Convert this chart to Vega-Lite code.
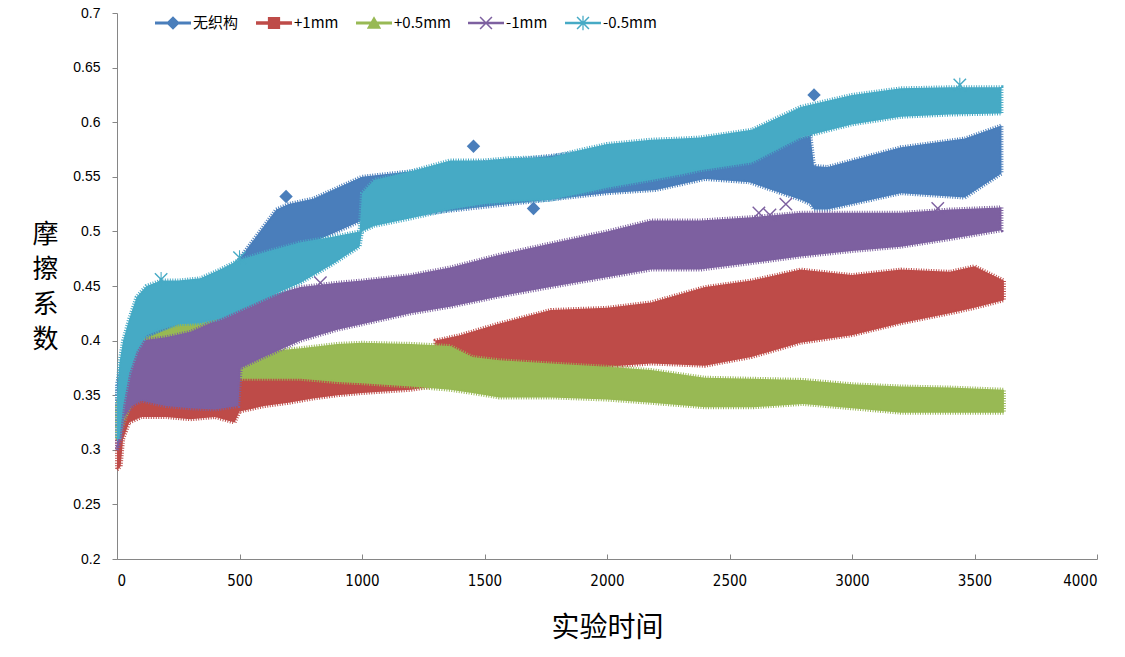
{
  "$schema": "https://vega.github.io/schema/vega-lite/v6.json",
  "autosize": "none",
  "width": 980,
  "height": 546,
  "padding": {"left": 117, "top": 13, "right": 28, "bottom": 98},
  "background": "white",
  "datasets": {
    "bands": [
      {"series": "无织构", "t": 0, "lo": 0.32, "hi": 0.36},
      {"series": "无织构", "t": 30, "lo": 0.34, "hi": 0.39},
      {"series": "无织构", "t": 100, "lo": 0.37, "hi": 0.41},
      {"series": "无织构", "t": 200, "lo": 0.38, "hi": 0.42},
      {"series": "无织构", "t": 300, "lo": 0.39, "hi": 0.43},
      {"series": "无织构", "t": 400, "lo": 0.4, "hi": 0.44},
      {"series": "无织构", "t": 500, "lo": 0.43, "hi": 0.475},
      {"series": "无织构", "t": 550, "lo": 0.44, "hi": 0.49},
      {"series": "无织构", "t": 650, "lo": 0.47, "hi": 0.52},
      {"series": "无织构", "t": 700, "lo": 0.48, "hi": 0.525},
      {"series": "无织构", "t": 800, "lo": 0.49, "hi": 0.53},
      {"series": "无织构", "t": 900, "lo": 0.5, "hi": 0.54},
      {"series": "无织构", "t": 1000, "lo": 0.51, "hi": 0.55},
      {"series": "无织构", "t": 1200, "lo": 0.515, "hi": 0.555},
      {"series": "无织构", "t": 1400, "lo": 0.52, "hi": 0.562},
      {"series": "无织构", "t": 1600, "lo": 0.525, "hi": 0.565},
      {"series": "无织构", "t": 1800, "lo": 0.53, "hi": 0.57},
      {"series": "无织构", "t": 2000, "lo": 0.535, "hi": 0.575},
      {"series": "无织构", "t": 2200, "lo": 0.538, "hi": 0.578},
      {"series": "无织构", "t": 2400, "lo": 0.548, "hi": 0.58},
      {"series": "无织构", "t": 2580, "lo": 0.545, "hi": 0.58},
      {"series": "无织构", "t": 2790, "lo": 0.529, "hi": 0.586},
      {"series": "无织构", "t": 2830, "lo": 0.525, "hi": 0.588},
      {"series": "无织构", "t": 2845, "lo": 0.52, "hi": 0.56},
      {"series": "无织构", "t": 2900, "lo": 0.52, "hi": 0.559},
      {"series": "无织构", "t": 3200, "lo": 0.535, "hi": 0.577},
      {"series": "无织构", "t": 3460, "lo": 0.531, "hi": 0.585},
      {"series": "无织构", "t": 3610, "lo": 0.553, "hi": 0.597},
      {"series": "+1mm", "t": 0, "lo": 0.282, "hi": 0.308},
      {"series": "+1mm", "t": 15, "lo": 0.285, "hi": 0.31},
      {"series": "+1mm", "t": 25, "lo": 0.31, "hi": 0.345},
      {"series": "+1mm", "t": 50, "lo": 0.325, "hi": 0.355},
      {"series": "+1mm", "t": 100, "lo": 0.33, "hi": 0.36},
      {"series": "+1mm", "t": 200, "lo": 0.33, "hi": 0.365},
      {"series": "+1mm", "t": 300, "lo": 0.328, "hi": 0.365},
      {"series": "+1mm", "t": 400, "lo": 0.33, "hi": 0.37},
      {"series": "+1mm", "t": 480, "lo": 0.325, "hi": 0.37},
      {"series": "+1mm", "t": 500, "lo": 0.335, "hi": 0.373},
      {"series": "+1mm", "t": 600, "lo": 0.34, "hi": 0.372},
      {"series": "+1mm", "t": 700, "lo": 0.343, "hi": 0.37},
      {"series": "+1mm", "t": 800, "lo": 0.347, "hi": 0.368},
      {"series": "+1mm", "t": 900, "lo": 0.35, "hi": 0.365},
      {"series": "+1mm", "t": 1000, "lo": 0.352, "hi": 0.363},
      {"series": "+1mm", "t": 1200, "lo": 0.355, "hi": 0.365},
      {"series": "+1mm", "t": 1290, "lo": 0.358, "hi": 0.368},
      {"series": "+1mm", "t": 1300, "lo": 0.365, "hi": 0.4},
      {"series": "+1mm", "t": 1400, "lo": 0.37, "hi": 0.405},
      {"series": "+1mm", "t": 1550, "lo": 0.372, "hi": 0.415},
      {"series": "+1mm", "t": 1770, "lo": 0.373, "hi": 0.428},
      {"series": "+1mm", "t": 2000, "lo": 0.376, "hi": 0.43},
      {"series": "+1mm", "t": 2180, "lo": 0.379, "hi": 0.435},
      {"series": "+1mm", "t": 2400, "lo": 0.377, "hi": 0.449},
      {"series": "+1mm", "t": 2590, "lo": 0.385, "hi": 0.455},
      {"series": "+1mm", "t": 2790, "lo": 0.398, "hi": 0.465},
      {"series": "+1mm", "t": 3000, "lo": 0.405, "hi": 0.46},
      {"series": "+1mm", "t": 3200, "lo": 0.416, "hi": 0.465},
      {"series": "+1mm", "t": 3400, "lo": 0.425, "hi": 0.463},
      {"series": "+1mm", "t": 3500, "lo": 0.43, "hi": 0.468},
      {"series": "+1mm", "t": 3620, "lo": 0.437, "hi": 0.455},
      {"series": "+0.5mm", "t": 0, "lo": 0.31, "hi": 0.34},
      {"series": "+0.5mm", "t": 20, "lo": 0.32, "hi": 0.36},
      {"series": "+0.5mm", "t": 50, "lo": 0.34, "hi": 0.38},
      {"series": "+0.5mm", "t": 100, "lo": 0.36, "hi": 0.4},
      {"series": "+0.5mm", "t": 200, "lo": 0.37, "hi": 0.41},
      {"series": "+0.5mm", "t": 300, "lo": 0.375, "hi": 0.42},
      {"series": "+0.5mm", "t": 450, "lo": 0.375, "hi": 0.42},
      {"series": "+0.5mm", "t": 500, "lo": 0.365, "hi": 0.385},
      {"series": "+0.5mm", "t": 600, "lo": 0.365, "hi": 0.39},
      {"series": "+0.5mm", "t": 750, "lo": 0.365, "hi": 0.393},
      {"series": "+0.5mm", "t": 900, "lo": 0.362, "hi": 0.397},
      {"series": "+0.5mm", "t": 1000, "lo": 0.361, "hi": 0.398},
      {"series": "+0.5mm", "t": 1200, "lo": 0.358, "hi": 0.397},
      {"series": "+0.5mm", "t": 1360, "lo": 0.355, "hi": 0.395},
      {"series": "+0.5mm", "t": 1450, "lo": 0.352, "hi": 0.385},
      {"series": "+0.5mm", "t": 1560, "lo": 0.348, "hi": 0.382},
      {"series": "+0.5mm", "t": 1770, "lo": 0.348, "hi": 0.379},
      {"series": "+0.5mm", "t": 2000, "lo": 0.346, "hi": 0.376},
      {"series": "+0.5mm", "t": 2180, "lo": 0.343, "hi": 0.373},
      {"series": "+0.5mm", "t": 2400, "lo": 0.339, "hi": 0.366},
      {"series": "+0.5mm", "t": 2600, "lo": 0.339, "hi": 0.365},
      {"series": "+0.5mm", "t": 2800, "lo": 0.342, "hi": 0.364},
      {"series": "+0.5mm", "t": 3000, "lo": 0.338, "hi": 0.36},
      {"series": "+0.5mm", "t": 3200, "lo": 0.334, "hi": 0.358},
      {"series": "+0.5mm", "t": 3400, "lo": 0.334, "hi": 0.357},
      {"series": "+0.5mm", "t": 3620, "lo": 0.334, "hi": 0.355},
      {"series": "-1mm", "t": 0, "lo": 0.3, "hi": 0.35},
      {"series": "-1mm", "t": 15, "lo": 0.31, "hi": 0.37},
      {"series": "-1mm", "t": 30, "lo": 0.33, "hi": 0.385},
      {"series": "-1mm", "t": 60, "lo": 0.34, "hi": 0.395},
      {"series": "-1mm", "t": 100, "lo": 0.345, "hi": 0.4},
      {"series": "-1mm", "t": 200, "lo": 0.34, "hi": 0.403},
      {"series": "-1mm", "t": 300, "lo": 0.338, "hi": 0.408},
      {"series": "-1mm", "t": 400, "lo": 0.337, "hi": 0.418},
      {"series": "-1mm", "t": 495, "lo": 0.34, "hi": 0.43},
      {"series": "-1mm", "t": 505, "lo": 0.375, "hi": 0.434},
      {"series": "-1mm", "t": 600, "lo": 0.385, "hi": 0.44},
      {"series": "-1mm", "t": 750, "lo": 0.4, "hi": 0.449},
      {"series": "-1mm", "t": 900, "lo": 0.41, "hi": 0.453},
      {"series": "-1mm", "t": 1000, "lo": 0.415, "hi": 0.455},
      {"series": "-1mm", "t": 1200, "lo": 0.425, "hi": 0.46},
      {"series": "-1mm", "t": 1360, "lo": 0.431, "hi": 0.467},
      {"series": "-1mm", "t": 1550, "lo": 0.44, "hi": 0.478},
      {"series": "-1mm", "t": 1770, "lo": 0.449, "hi": 0.489},
      {"series": "-1mm", "t": 2000, "lo": 0.458, "hi": 0.5},
      {"series": "-1mm", "t": 2180, "lo": 0.465, "hi": 0.51},
      {"series": "-1mm", "t": 2380, "lo": 0.465, "hi": 0.51},
      {"series": "-1mm", "t": 2590, "lo": 0.471, "hi": 0.513},
      {"series": "-1mm", "t": 2790, "lo": 0.477, "hi": 0.517},
      {"series": "-1mm", "t": 3000, "lo": 0.482, "hi": 0.517},
      {"series": "-1mm", "t": 3200, "lo": 0.486, "hi": 0.517},
      {"series": "-1mm", "t": 3400, "lo": 0.493, "hi": 0.52},
      {"series": "-1mm", "t": 3610, "lo": 0.501, "hi": 0.522},
      {"series": "-0.5mm", "t": 0, "lo": 0.31, "hi": 0.35},
      {"series": "-0.5mm", "t": 10, "lo": 0.31, "hi": 0.38},
      {"series": "-0.5mm", "t": 25, "lo": 0.34, "hi": 0.4},
      {"series": "-0.5mm", "t": 50, "lo": 0.37, "hi": 0.42},
      {"series": "-0.5mm", "t": 80, "lo": 0.39, "hi": 0.44},
      {"series": "-0.5mm", "t": 120, "lo": 0.405, "hi": 0.45},
      {"series": "-0.5mm", "t": 180, "lo": 0.41, "hi": 0.455},
      {"series": "-0.5mm", "t": 250, "lo": 0.415, "hi": 0.455},
      {"series": "-0.5mm", "t": 340, "lo": 0.416, "hi": 0.457},
      {"series": "-0.5mm", "t": 420, "lo": 0.42, "hi": 0.465},
      {"series": "-0.5mm", "t": 500, "lo": 0.428, "hi": 0.474},
      {"series": "-0.5mm", "t": 620, "lo": 0.44, "hi": 0.482},
      {"series": "-0.5mm", "t": 750, "lo": 0.453, "hi": 0.49},
      {"series": "-0.5mm", "t": 880, "lo": 0.47, "hi": 0.495},
      {"series": "-0.5mm", "t": 990, "lo": 0.486, "hi": 0.5},
      {"series": "-0.5mm", "t": 1000, "lo": 0.5, "hi": 0.535},
      {"series": "-0.5mm", "t": 1050, "lo": 0.505, "hi": 0.547},
      {"series": "-0.5mm", "t": 1200, "lo": 0.512, "hi": 0.555},
      {"series": "-0.5mm", "t": 1360, "lo": 0.52, "hi": 0.565},
      {"series": "-0.5mm", "t": 1500, "lo": 0.525, "hi": 0.565},
      {"series": "-0.5mm", "t": 1600, "lo": 0.527, "hi": 0.567},
      {"series": "-0.5mm", "t": 1770, "lo": 0.529, "hi": 0.568},
      {"series": "-0.5mm", "t": 1900, "lo": 0.535, "hi": 0.575},
      {"series": "-0.5mm", "t": 2000, "lo": 0.54, "hi": 0.58},
      {"series": "-0.5mm", "t": 2180, "lo": 0.547, "hi": 0.584},
      {"series": "-0.5mm", "t": 2300, "lo": 0.552, "hi": 0.585},
      {"series": "-0.5mm", "t": 2380, "lo": 0.556, "hi": 0.586},
      {"series": "-0.5mm", "t": 2590, "lo": 0.563, "hi": 0.593},
      {"series": "-0.5mm", "t": 2790, "lo": 0.586, "hi": 0.614},
      {"series": "-0.5mm", "t": 3000, "lo": 0.598, "hi": 0.625},
      {"series": "-0.5mm", "t": 3200, "lo": 0.605, "hi": 0.631},
      {"series": "-0.5mm", "t": 3400, "lo": 0.607, "hi": 0.632},
      {"series": "-0.5mm", "t": 3610, "lo": 0.608, "hi": 0.632}
    ],
    "outliers": [
      {"series": "无织构", "t": 690, "v": 0.532},
      {"series": "无织构", "t": 1455, "v": 0.578},
      {"series": "无织构", "t": 1700, "v": 0.521},
      {"series": "无织构", "t": 2845, "v": 0.625},
      {"series": "-1mm", "t": 830, "v": 0.453},
      {"series": "-1mm", "t": 2620, "v": 0.517},
      {"series": "-1mm", "t": 2665, "v": 0.515},
      {"series": "-1mm", "t": 2730, "v": 0.525},
      {"series": "-1mm", "t": 3350, "v": 0.521},
      {"series": "-0.5mm", "t": 180, "v": 0.456},
      {"series": "-0.5mm", "t": 500, "v": 0.476},
      {"series": "-0.5mm", "t": 3440, "v": 0.634}
    ]
  },
  "encoding": {
    "x": {
      "field": "t",
      "type": "quantitative",
      "scale": {"domain": [0, 4000], "nice": false},
      "axis": {
        "values": [0, 500, 1000, 1500, 2000, 2500, 3000, 3500, 4000],
        "format": "d",
        "title": "实验时间",
        "tickSize": -5,
        "labelPadding": 19,
        "labelFont": "Liberation Sans Narrow, DejaVu Sans Condensed, Liberation Sans",
        "labelFontSize": 15,
        "titleFontSize": 28,
        "titleBaseline": "middle",
        "titleY": 69
      }
    },
    "color": {
      "field": "series",
      "type": "nominal",
      "sort": ["无织构", "+1mm", "+0.5mm", "-1mm", "-0.5mm"],
      "scale": {
        "domain": ["无织构", "+1mm", "+0.5mm", "-1mm", "-0.5mm"],
        "range": ["#4A7EBB", "#BE4B48", "#98B954", "#7D60A0", "#46AAC5"]
      },
      "legend": {
        "orient": "none",
        "legendX": 38,
        "legendY": -8,
        "direction": "horizontal",
        "title": null,
        "symbolSize": 1296,
        "symbolOpacity": 1,
        "symbolStrokeWidth": 0,
        "labelFontSize": 15,
        "labelOffset": 2,
        "columnPadding": 17,
        "encode": {
          "symbols": {
            "update": {
              "shape": {
                "signal": "datum.value === '无织构' ? 'M-1,-0.09H1V0.09H-1Z M0,-0.38L0.38,0L0,0.38L-0.38,0Z' : datum.value === '+1mm' ? 'M-1,-0.1H1V0.1H-1Z M-0.34,-0.34H0.34V0.34H-0.34Z' : datum.value === '+0.5mm' ? 'M-1,-0.09H1V0.09H-1Z M0,-0.38L0.4,0.32H-0.4Z' : datum.value === '-1mm' ? 'M-1,-0.07H1V0.07H-1Z M-0.36,-0.3L-0.3,-0.36L0.36,0.3L0.3,0.36Z M0.3,-0.36L0.36,-0.3L-0.3,0.36L-0.36,0.3Z' : 'M-1,-0.07H1V0.07H-1Z M-0.36,-0.3L-0.3,-0.36L0.36,0.3L0.3,0.36Z M0.3,-0.36L0.36,-0.3L-0.3,0.36L-0.36,0.3Z M-0.035,-0.4H0.035V0.4H-0.035Z'"
              }
            }
          }
        }
      }
    }
  },
  "layer": [
    {
      "data": {"name": "bands"},
      "mark": {"type": "area", "opacity": 1, "interpolate": "linear", "strokeWidth": 4, "strokeDash": [1, 1.5]},
      "encoding": {
        "y": {
          "field": "lo",
          "type": "quantitative",
          "scale": {"domain": [0.2, 0.7], "nice": false, "zero": false},
          "axis": {
            "values": [0.2, 0.25, 0.3, 0.35, 0.4, 0.45, 0.5, 0.55, 0.6, 0.65, 0.7],
            "format": ".2~f",
            "title": ["摩", "擦", "系", "数"],
            "tickSize": 5,
            "labelPadding": 12,
            "labelFontSize": 14,
            "titleAngle": 0,
            "titleAlign": "center",
            "titleBaseline": "top",
            "titleX": -72,
            "titleY": 208,
            "titleFontSize": 26,
            "titleLineHeight": 35
          }
        },
        "y2": {"field": "hi"},
        "stroke": {
          "field": "series",
          "type": "nominal",
          "scale": {
            "domain": ["无织构", "+1mm", "+0.5mm", "-1mm", "-0.5mm"],
            "range": ["#4A7EBB", "#BE4B48", "#98B954", "#7D60A0", "#46AAC5"]
          },
          "legend": null
        }
      }
    },
    {
      "data": {"name": "outliers"},
      "transform": [{"filter": "datum.series === '无织构'"}],
      "mark": {"type": "point", "filled": true, "opacity": 1, "size": 180, "shape": "M0,-1L1,0L0,1L-1,0Z"},
      "encoding": {
        "y": {"field": "v", "type": "quantitative"}
      }
    },
    {
      "data": {"name": "outliers"},
      "transform": [{"filter": "datum.series === '-1mm'"}],
      "mark": {"type": "point", "filled": true, "opacity": 1, "size": 180, "shape": "M-1,-0.85L-0.85,-1L1,0.85L0.85,1Z M0.85,-1L1,-0.85L-0.85,1L-1,0.85Z"},
      "encoding": {
        "y": {"field": "v", "type": "quantitative"}
      }
    },
    {
      "data": {"name": "outliers"},
      "transform": [{"filter": "datum.series === '-0.5mm'"}],
      "mark": {"type": "point", "filled": true, "opacity": 1, "size": 180, "shape": "M-1,-0.85L-0.85,-1L1,0.85L0.85,1Z M0.85,-1L1,-0.85L-0.85,1L-1,0.85Z M-0.08,-1.1H0.08V1.1H-0.08Z"},
      "encoding": {
        "y": {"field": "v", "type": "quantitative"}
      }
    }
  ],
  "config": {
    "view": {"stroke": null},
    "font": "Noto Sans CJK SC",
    "axis": {
      "grid": false,
      "domainColor": "#868686",
      "tickColor": "#868686",
      "labelColor": "#000000",
      "titleColor": "#000000",
      "labelFont": "Liberation Sans",
      "titleFont": "Noto Sans CJK SC",
      "titleFontWeight": "normal"
    },
    "legend": {"labelFont": "Noto Sans CJK SC", "labelColor": "#000000"}
  }
}
